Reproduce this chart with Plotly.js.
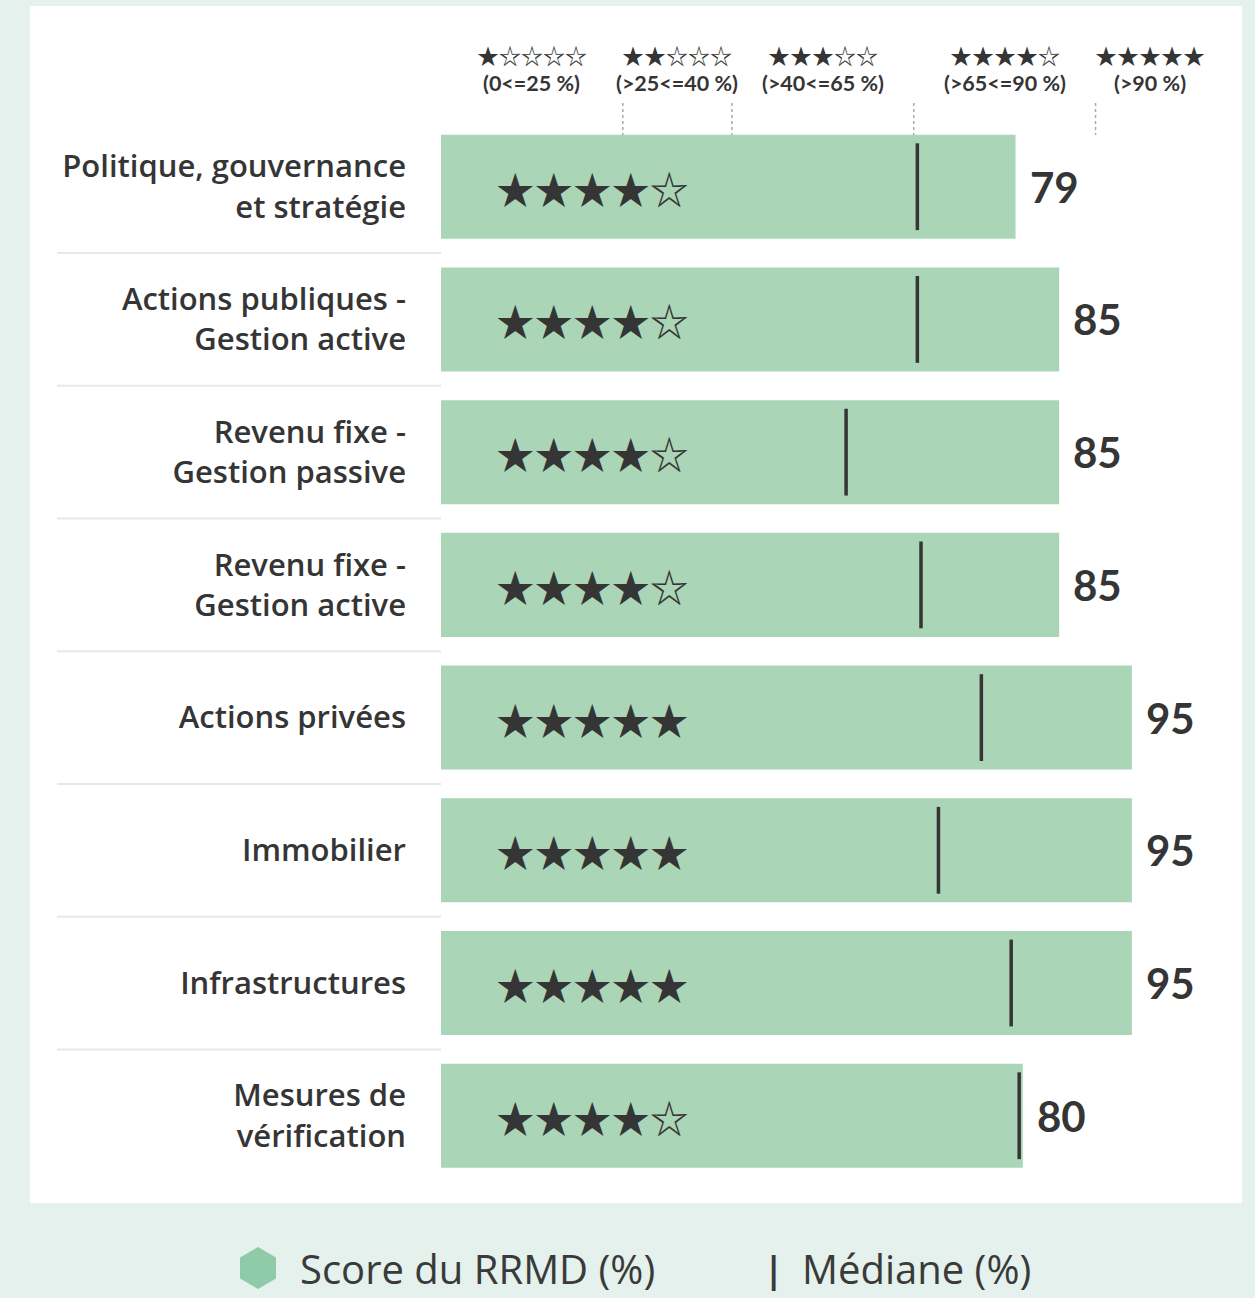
<!DOCTYPE html>
<html><head><meta charset="utf-8">
<script src="https://cdn.plot.ly/plotly-3.0.1.min.js"></script>
<style>html,body{margin:0;padding:0;background:#e4f1ec}</style>
</head><body><div id="chart" style="width:1255px;height:1298px"></div>
<script>
// ---- data ----
const categories = ["Politique, gouvernance<br>et stratégie", "Actions publiques -<br>Gestion active", "Revenu fixe -<br>Gestion passive", "Revenu fixe -<br>Gestion active", "Actions privées", "Immobilier", "Infrastructures", "Mesures de<br>vérification"];
const scores = [79, 85, 85, 85, 95, 95, 95, 80];
const medians = [65.5, 65.5, 55.7, 66, 74.3, 68.4, 78.4, 79.5];
const starCounts = [4, 4, 4, 4, 5, 5, 5, 4];
const bandLabels = ["(0<=25 %)", "(>25<=40 %)", "(>40<=65 %)", "(>65<=90 %)", "(>90 %)"];
const bandStars = [1, 2, 3, 4, 5];
const bandBounds = [0, 25, 40, 65, 90, 105];
const legendNames = ["Score du RRMD (%)", "Médiane (%)"];

// ---- layout helpers (pixel -> paper) ----
const W = 1255, H = 1298, L = 441, R = 14, T = 54, B = 96;
const PW = W - L - R, PH = H - T - B;
const px = x => (x - L) / PW;
const py = y => (H - B - y) / PH;
const yTop = -1, yBot = 7.65;
const rowPx = PH / (yBot - yTop);
const dy = y => yTop + (y - T) / rowPx; // pixel -> y data

const idx = categories.map((_, i) => i);
const starStr = n => "★".repeat(n) + "☆".repeat(5 - n);
const FONT = "'Open Sans', Lato, sans-serif";
const NUMFONT = "Lato, 'Open Sans', sans-serif";
const STARFONT = "'Noto Sans CJK JP', 'DejaVu Sans', sans-serif";
const DARK = "#353535";

const traces = [
  {
    type: "bar", orientation: "h", x: scores, y: idx, width: 0.784,
    marker: { color: "#aad5b7", line: { width: 0 } },
    name: legendNames[0], showlegend: false, hoverinfo: "x"
  },
  {
    type: "scatter", mode: "markers", x: medians, y: idx,
    marker: { symbol: "line-ns", size: 62, line: { width: 3.5, color: DARK } },
    name: legendNames[1], showlegend: false, hoverinfo: "x"
  }
];

const annotations = [];
idx.forEach(i => {
  annotations.push({
    x: 7.3, y: i, xref: "x", yref: "y", xanchor: "left", yanchor: "middle",
    text: starStr(starCounts[i]), showarrow: false,
    font: { family: STARFONT, size: 38.5, color: DARK }
  });
  annotations.push({
    x: scores[i], y: i, xref: "x", yref: "y", xanchor: "left", yanchor: "middle", xshift: 12,
    text: String(scores[i]), showarrow: false,
    font: { family: NUMFONT, size: 42, color: DARK, weight: 700 }
  });
});
bandLabels.forEach((lab, k) => {
  const c = (bandBounds[k] + bandBounds[k + 1]) / 2;
  annotations.push({
    x: c, y: dy(54), xref: "x", yref: "y", xanchor: "center", yanchor: "middle",
    text: starStr(bandStars[k]), showarrow: false,
    font: { family: STARFONT, size: 22, color: DARK }
  });
  annotations.push({
    x: c, y: dy(83), xref: "x", yref: "y", xanchor: "center", yanchor: "middle",
    text: lab, showarrow: false,
    font: { family: NUMFONT, size: 21.5, color: DARK, weight: 700 }
  });
});
// legend
annotations.push({
  x: px(298), y: py(1268), xref: "paper", yref: "paper", xanchor: "left", yanchor: "middle",
  text: legendNames[0], showarrow: false, font: { family: FONT, size: 40, color: "#3a3a3a" }
});
annotations.push({
  x: px(762), y: py(1268), xref: "paper", yref: "paper", xanchor: "left", yanchor: "middle",
  text: "|", showarrow: false, font: { family: FONT, size: 35, color: "#3a3a3a", weight: 700 }
});
annotations.push({
  x: px(800), y: py(1268), xref: "paper", yref: "paper", xanchor: "left", yanchor: "middle",
  text: legendNames[1], showarrow: false, font: { family: FONT, size: 40, color: "#3a3a3a" }
});

const shapes = [
  { type: "rect", xref: "paper", yref: "paper", x0: px(30), x1: px(1242), y0: py(1203), y1: py(6),
    fillcolor: "#ffffff", line: { width: 0 }, layer: "below" },
  { type: "path", xref: "paper", yref: "paper", xsizemode: "pixel", ysizemode: "pixel",
    xanchor: px(258), yanchor: py(1268),
    path: "M0,21 L18,10.5 L18,-10.5 L0,-21 L-18,-10.5 L-18,10.5 Z",
    fillcolor: "#8fcaa9", line: { width: 0 } }
];
for (let i = 0; i < categories.length - 1; i++) {
  shapes.push({ type: "line", xref: "paper", yref: "y", x0: px(57), x1: 0, y0: i + 0.5, y1: i + 0.5,
    line: { color: "#e8e8e8", width: 2 } });
}
bandBounds.slice(1, -1).forEach(t => {
  shapes.push({ type: "line", xref: "x", yref: "y", x0: t, x1: t, y0: dy(103), y1: dy(135),
    line: { color: "#aaaaaa", width: 1.5, dash: "dot" } });
});

const layout = {
  width: W, height: H,
  margin: { l: L, r: R, t: T, b: B, pad: 0 },
  paper_bgcolor: "#e4f1ec", plot_bgcolor: "rgba(0,0,0,0)",
  showlegend: false,
  xaxis: { range: [0, 110], visible: false, fixedrange: true },
  yaxis: {
    range: [yBot, yTop], tickvals: idx, ticktext: categories,
    showgrid: false, zeroline: false, showline: false, ticks: "",
    ticklabelstandoff: 34, fixedrange: true,
    tickfont: { family: FONT, size: 31, color: DARK, weight: 600 }
  },
  annotations, shapes
};

Plotly.newPlot("chart", traces, layout, { displayModeBar: false, staticPlot: true });
</script></body></html>
